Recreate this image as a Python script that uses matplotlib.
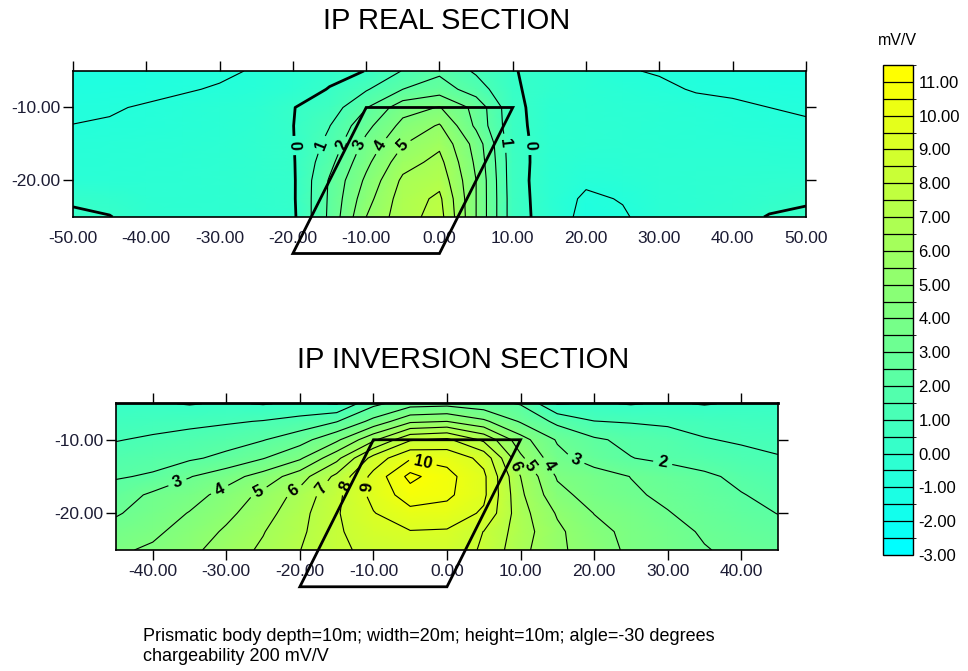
import numpy as np
import matplotlib
matplotlib.use('Agg')
import matplotlib.pyplot as plt
from matplotlib.colors import LinearSegmentedColormap, ListedColormap, BoundaryNorm, Normalize
from matplotlib.patches import Polygon
from matplotlib.ticker import FormatStrFormatter

plt.rcParams['font.family'] = ['Liberation Sans', 'DejaVu Sans']

x_real = [-50, -45, -40, -35, -30, -25, -20, -15, -10, -5, 0, 5, 10, 15, 20, 25, 30, 35, 40, 45, 50]
x_inv = [-45, -40, -35, -30, -25, -20, -15, -10, -5, 0, 5, 10, 15, 20, 25, 30, 35, 40, 45]
depths = [-5, -7.5, -10, -12.5, -15, -17.5, -20, -22.5, -25]

real_rows = [
    [-1.4, -1.35, -1.3, -1.2, -1.1, -0.95, -0.6, -0.3, 0.02, 1.05, 1.8, 0.85, 0.05, -0.3, -0.6, -0.95, -1.05, -1.15, -1.2, -1.3, -1.35],
    [-1.25, -1.2, -1.15, -1.05, -0.95, -0.8, -0.5, 0.05, 0.9, 2.0, 2.5, 1.5, 0.1, -0.3, -0.55, -0.75, -0.88, -1.05, -1.1, -1.15, -1.2],
    [-1.1, -1.05, -0.95, -0.85, -0.7, -0.5, -0.03, 0.45, 1.95, 3.6, 4.05, 2.7, 0.25, -0.45, -0.5, -0.6, -0.7, -0.8, -0.9, -1.0, -1.05],
    [-0.99, -0.95, -0.88, -0.8, -0.65, -0.45, -0.02, 0.97, 2.7, 4.3, 5.1, 2.8, 0.3, -0.45, -0.5, -0.55, -0.65, -0.75, -0.85, -0.9, -0.95],
    [-0.85, -0.8, -0.75, -0.7, -0.55, -0.35, -0.05, 1.3, 3.3, 4.95, 5.8, 3.6, 0.35, -0.4, -0.5, -0.55, -0.6, -0.65, -0.7, -0.75, -0.8],
    [-0.78, -0.72, -0.68, -0.62, -0.5, -0.33, -0.1, 1.7, 3.75, 5.6, 6.3, 3.8, 0.4, -0.45, -0.65, -0.62, -0.58, -0.57, -0.57, -0.57, -0.6],
    [-0.7, -0.65, -0.6, -0.55, -0.45, -0.3, -0.15, 2.1, 4.2, 6.2, 6.7, 4.0, 0.4, -0.5, -0.85, -0.75, -0.55, -0.5, -0.45, -0.4, -0.4],
    [-0.12, -0.25, -0.45, -0.5, -0.45, -0.35, -0.15, 2.15, 4.6, 6.5, 7.2, 4.0, 0.45, -0.5, -1.15, -0.95, -0.6, -0.5, -0.4, -0.25, -0.1],
    [0.15, 0.03, -0.35, -0.45, -0.45, -0.4, -0.2, 2.2, 5.0, 6.6, 7.4, 4.0, 0.45, -0.45, -1.3, -1.1, -0.6, -0.45, -0.3, 0.05, 0.15],
]

inv_rows = [
    [0.1, 0.1, -0.05, 0.1, -0.05, 0.15, -0.05, 1.7, 2.5, 2.6, 2.3, 1.9, -0.05, 0.1, -0.05, 0.1, -0.05, 0.1, 0.1],
    [0.5, 0.62, 0.75, 0.88, 1.05, 1.35, 1.95, 3.3, 4.8, 5.0, 4.2, 2.9, 1.75, 1.02, 0.92, 0.8, 0.7, 0.6, 0.45],
    [0.95, 1.15, 1.35, 1.6, 1.95, 2.6, 3.8, 5.8, 7.9, 8.2, 6.8, 4.4, 2.9, 2.15, 1.75, 1.5, 1.05, 0.9, 0.8],
    [1.45, 1.7, 1.85, 2.25, 2.95, 3.85, 5.7, 8.4, 9.9, 9.7, 8.7, 5.2, 3.3, 2.55, 2.03, 1.75, 1.5, 1.25, 1.05],
    [1.92, 2.1, 2.95, 3.6, 4.4, 5.55, 7.25, 9.3, 11.3, 10.3, 9.2, 6.0, 3.9, 3.45, 2.98, 2.6, 2.2, 1.75, 1.4],
    [2.42, 3.2, 3.6, 4.35, 5.25, 6.35, 7.75, 9.3, 10.5, 10.2, 9.2, 6.2, 4.3, 3.6, 3.15, 2.8, 2.45, 2.05, 1.7],
    [2.9, 3.45, 4.05, 4.75, 5.6, 6.65, 7.9, 8.95, 9.7, 9.6, 8.85, 6.4, 4.9, 3.98, 3.6, 3.05, 2.65, 2.3, 1.98],
    [3.4, 3.8, 4.4, 5.15, 5.95, 6.8, 7.85, 8.6, 8.95, 8.9, 7.98, 6.5, 5.2, 4.3, 3.75, 3.3, 2.9, 2.55, 2.3],
    [3.85, 4.15, 4.7, 5.55, 6.15, 6.98, 7.85, 8.2, 8.45, 8.45, 7.9, 6.3, 5.2, 4.5, 3.8, 3.45, 3.05, 2.8, 2.6],
]

real_levels = [-1, 0, 1, 2, 3, 4, 5, 6, 7]
inv_levels = [0, 1, 2, 3, 4, 5, 6, 7, 8, 9, 10, 11]

# prism outline (same body in both sections)
prism_x = [-10, 10, 0, -20]
prism_z = [-10, -10, -30, -30]

cbar_ticks = [-3, -2, -1, 0, 1, 2, 3, 4, 5, 6, 7, 8, 9, 10, 11]

# where the contour labels sit
real_label_pos = [(-19.5, -15.2), (-15.8, -15.2), (-13.3, -15.2), (-10.8, -15.2),
                  (-8.1, -15.2), (-5.1, -15.2), (8.3, -15.0), (11.6, -15.2)]
inv_label_pos = [(-36.5, -16.2), (-30.9, -16.8), (-25.9, -16.6), (-20.9, -16.8),
                 (-17.3, -16.4), (-13.6, -16.4), (-10.5, -16.5), (-3.4, -13.5),
                 (9.7, -13.4), (11.6, -13.4), (14.0, -13.4), (17.4, -12.9), (29.4, -12.7)]

cmap = LinearSegmentedColormap.from_list('cy', ['#00ffff', '#ffff00'])
norm = Normalize(-3, 11)
TICK_COLOR = '#1c1c34'


def draw_section(ax, xs, rows, levels, label_pos, xticks, bottom_ticks):
    X, Z = np.meshgrid(xs, depths)
    V = np.array(rows)
    ax.pcolormesh(X, Z, V, shading='gouraud', cmap=cmap, norm=norm)
    widths = [2.0 if lev == 0 else 0.8 for lev in levels]
    cs = ax.contour(X, Z, V, levels=levels, colors='black', linewidths=widths,
                    linestyles='solid')
    labels = ax.clabel(cs, manual=label_pos, inline=True, fmt='%d', fontsize=12)
    for t in labels:
        t.set_fontweight('bold')

    ax.add_patch(Polygon(np.column_stack([prism_x, prism_z]), closed=True, fill=False,
                         lw=2, ec='black', clip_on=False, zorder=5))

    ax.set_xlim(xs[0], xs[-1])
    ax.set_ylim(-25, -5)
    ax.set_xticks(xticks)
    ax.set_yticks([-10, -20])
    ax.xaxis.set_major_formatter(FormatStrFormatter('%.2f'))
    ax.yaxis.set_major_formatter(FormatStrFormatter('%.2f'))
    ax.tick_params(axis='x', top=True, bottom=bottom_ticks, direction='out', length=7,
                   width=1, labelsize=12.5, labelcolor=TICK_COLOR, pad=3)
    ax.tick_params(axis='y', left=True, right=True, direction='out', length=7,
                   width=1, labelsize=12.5, labelcolor=TICK_COLOR, pad=2)
    for sp in ax.spines.values():
        sp.set_linewidth(1.2)


def main():
    fig = plt.figure(figsize=(9.68, 6.71), dpi=100)

    ax1 = fig.add_axes([0.0754, 0.6766, 0.7572, 0.2176])
    draw_section(ax1, x_real, real_rows, real_levels, real_label_pos,
                 list(range(-50, 51, 10)), False)
    fig.text(0.461, 0.968, 'IP REAL SECTION', ha='center', va='center', fontsize=21)

    ax2 = fig.add_axes([0.1198, 0.1803, 0.6839, 0.2191])
    draw_section(ax2, x_inv, inv_rows, inv_levels, inv_label_pos,
                 list(range(-40, 41, 10)), True)
    ax2.spines['top'].set_linewidth(2)
    fig.text(0.478, 0.463, 'IP INVERSION SECTION', ha='center', va='center', fontsize=21)

    # stepped colour scale, 0.5 mV/V per band
    bounds = np.arange(-3, 11.51, 0.5)
    band_colors = cmap(np.linspace(0, 1, len(bounds) - 1))
    cax = fig.add_axes([0.9122, 0.1729, 0.0310, 0.7303])
    sm = plt.cm.ScalarMappable(cmap=ListedColormap(band_colors),
                               norm=BoundaryNorm(bounds, len(bounds) - 1))
    cb = fig.colorbar(sm, cax=cax, drawedges=True, ticks=cbar_ticks)
    cb.ax.yaxis.set_major_formatter(FormatStrFormatter('%.2f'))
    cb.ax.tick_params(length=0, labelsize=12, pad=4)
    cb.outline.set_linewidth(1)
    cb.dividers.set_linewidth(0.9)
    fig.text(0.927, 0.940, 'mV/V', ha='center', va='center', fontsize=11.5)

    fig.text(0.148, 0.052, 'Prismatic body depth=10m; width=20m; height=10m; algle=-30 degrees',
             ha='left', va='center', fontsize=13)
    fig.text(0.148, 0.021, 'chargeability 200 mV/V', ha='left', va='center', fontsize=13)

    fig.savefig('out.png', dpi=100)


if __name__ == '__main__':
    main()
